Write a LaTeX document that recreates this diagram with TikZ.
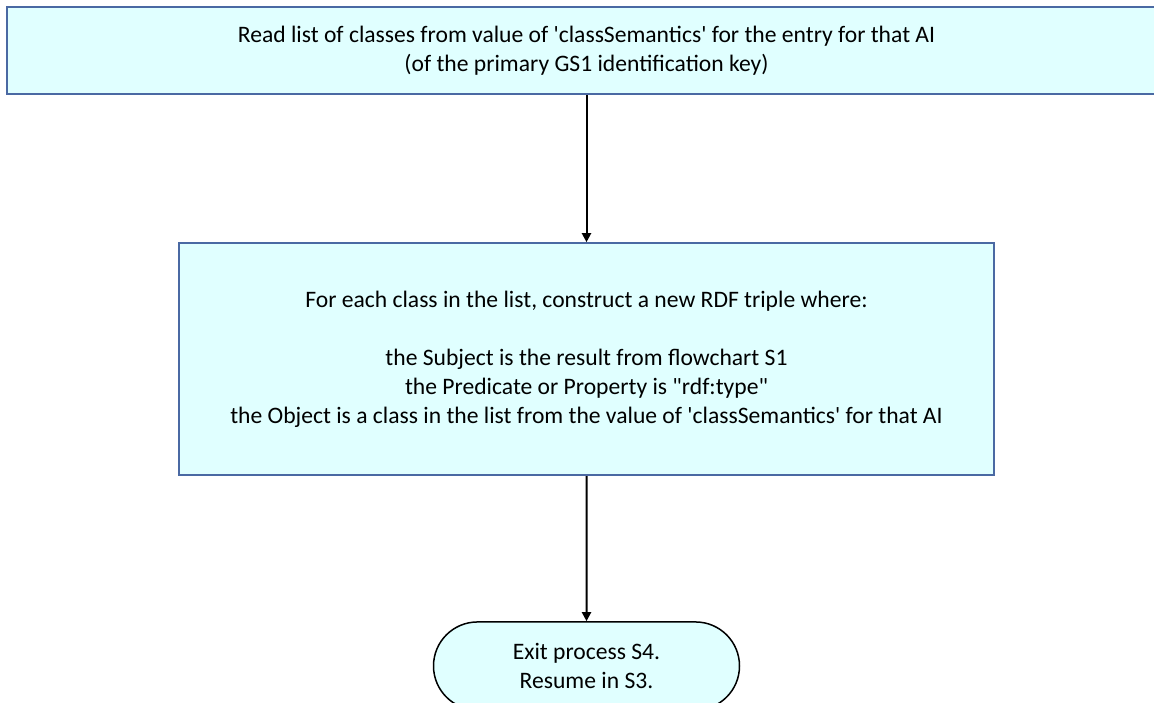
\documentclass[tikz,border=0pt]{standalone}
\usepackage{fontspec}
\setmainfont{Carlito}
\usetikzlibrary{positioning,shapes.misc,arrows.meta}
\definecolor{boxfill}{HTML}{E0FFFF}
\definecolor{boxline}{HTML}{4A69A3}

\begin{document}
\begin{tikzpicture}[
  x=1pt, y=1pt,
  node distance=147pt,
  stepbox/.style={draw=boxline, fill=boxfill, line width=2pt,
                  inner sep=0pt, align=center,
                  font=\fontsize{23.6}{29}\selectfont},
  exitbox/.style={rounded rectangle, draw=black, fill=boxfill, line width=1.5pt,
                  minimum width=306pt, minimum height=88pt, inner sep=0pt,
                  align=center, font=\fontsize{23.6}{29}\selectfont},
  arr/.style={-{Triangle[length=9pt,width=9pt]}, line width=2pt}
]
  \useasboundingbox (0,0) rectangle (1154,-702);

  % Top box, runs off the right edge
  \node[stepbox, line width=2.4pt, minimum width=1159pt, minimum height=87pt] (read) at (586.5,-50.5)
    {Read list of classes from value of \textquotesingle classSemantics\textquotesingle\ for the entry for that AI\\
     (of the primary GS1 identification key)};

  % Middle box
  \node[stepbox, minimum width=815pt, minimum height=232pt, below=of read] (triple)
    {For each class in the list, construct a new RDF triple where:\\[29pt]
     the Subject is the result from flowchart S1\\
     the Predicate or Property is \textquotedbl rdf:type\textquotedbl\\
     the Object is a class in the list from the value of \textquotesingle classSemantics\textquotesingle\ for that AI};

  % Exit terminal, cut by the bottom edge
  \node[exitbox, below=145pt of triple] (exit) {Exit process S4.\\Resume in S3.};

  \draw[arr] (read) -- (triple);
  \draw[arr] (triple) -- (exit);
\end{tikzpicture}
\end{document}
